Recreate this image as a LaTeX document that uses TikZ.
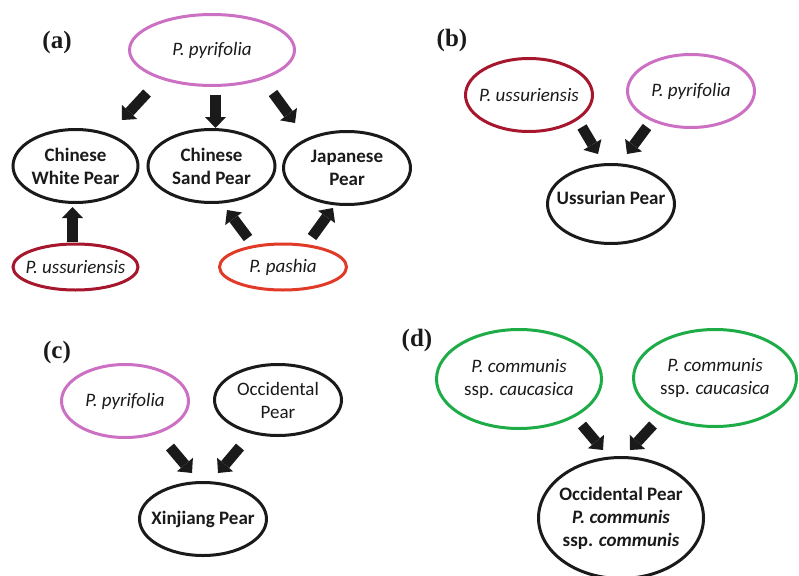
\documentclass[tikz,border=0pt]{standalone}
\usepackage{fontspec}
\setmainfont{Carlito}
\newfontfamily\labfont{Liberation Serif}
\usetikzlibrary{shapes.geometric,arrows.meta}
\definecolor{pyr}{RGB}{204,112,196}
\definecolor{uss}{RGB}{166,22,44}
\definecolor{pash}{RGB}{226,58,40}
\definecolor{grn}{RGB}{30,172,72}
\definecolor{ink}{RGB}{26,26,26}
\begin{document}
\begin{tikzpicture}[x=1pt,y=-1pt,
  ell/.style={ellipse,draw=ink,line width=3pt,inner xsep=-40pt,inner ysep=-30pt,text=ink,align=center,
    font=\fontsize{19}{23}\selectfont},
  bigarrow/.style={draw=ink,line width=10.5pt,
    -{Triangle[width=21pt,length=11pt,line width=0pt]}},
  panel/.style={font=\labfont\bfseries\fontsize{25}{28}\selectfont,text=ink,inner sep=0pt}]
\useasboundingbox (0,0) rectangle (799,575);
% ---------- (a)
\node[panel] (la) at (57,42) {(a)};
\node[ell,draw=pyr,minimum width=165pt,minimum height=71pt] (pyrA) at (212,50) {\textit{P. pyrifolia}};
\node[ell,minimum width=125pt,minimum height=73pt] (cwp) at (75.5,166) {\textbf{Chinese}\\\textbf{White Pear}};
\node[ell,minimum width=127pt,minimum height=73pt] (csp) at (211.5,166) {\textbf{Chinese}\\\textbf{Sand Pear}};
\node[ell,minimum width=127pt,minimum height=73pt] (jp) at (347,168) {\textbf{Japanese}\\\textbf{Pear}};
\node[ell,draw=uss,minimum width=125pt,minimum height=46pt] (ussA) at (75.5,267) {\textit{P. ussuriensis}};
\node[ell,draw=pash,minimum width=127pt,minimum height=46pt] (pashA) at (283,267) {\textit{P. pashia}};
\coordinate (a1t) at (147,93);  \coordinate (a1h) at (122,120);
\coordinate (a2t) at (215.5,95); \coordinate (a2h) at (215.5,128);
\coordinate (a3t) at (273,93);  \coordinate (a3h) at (295,123);
\coordinate (a4t) at (72.5,242); \coordinate (a4h) at (72.5,207);
\coordinate (a5t) at (248,238); \coordinate (a5h) at (227,210);
\coordinate (a6t) at (312,237); \coordinate (a6h) at (333,208);
\draw[bigarrow] (a1t) -- (a1h);
\draw[bigarrow] (a2t) -- (a2h);
\draw[bigarrow] (a3t) -- (a3h);
\draw[bigarrow] (a4t) -- (a4h);
\draw[bigarrow] (a5t) -- (a5h);
\draw[bigarrow] (a6t) -- (a6h);
% ---------- (b)
\node[panel] (lb) at (452,40) {(b)};
\node[ell,draw=uss,minimum width=127pt,minimum height=73pt] (ussB) at (529,95) {\textit{P. ussuriensis}};
\node[ell,draw=pyr,minimum width=127pt,minimum height=73pt] (pyrB) at (691,91) {\textit{P. pyrifolia}};
\node[ell,minimum width=127pt,minimum height=79pt,
  label={[text=ink,font=\fontsize{19}{23}\selectfont\bfseries,yshift=6pt]center:Ussurian Pear}] (usp) at (611,204) {};
\coordinate (b1t) at (582,127); \coordinate (b1h) at (598,154);
\coordinate (b2t) at (647,127); \coordinate (b2h) at (627,154);
\draw[bigarrow] (b1t) -- (b1h);
\draw[bigarrow] (b2t) -- (b2h);
% ---------- (c)
\node[panel] (lc) at (57,352) {(c)};
\node[ell,draw=pyr,minimum width=127pt,minimum height=73pt] (pyrC) at (125,401) {\textit{P. pyrifolia}};
\node[ell,minimum width=127pt,minimum height=71pt] (occC) at (278,400) {Occidental\\Pear};
\node[ell,minimum width=127pt,minimum height=73pt] (xin) at (203,519) {\textbf{Xinjiang Pear}};
\coordinate (c1t) at (170,447); \coordinate (c1h) at (192,473);
\coordinate (c2t) at (240,447); \coordinate (c2h) at (218,473);
\draw[bigarrow] (c1t) -- (c1h);
\draw[bigarrow] (c2t) -- (c2h);
% ---------- (d)
\node[panel] (ld) at (417,340) {(d)};
\node[ell,draw=grn,minimum width=165pt,minimum height=99pt] (comL) at (519,379) {\textit{P. communis}\\ssp. \textit{caucasica}};
\node[ell,draw=grn,minimum width=163pt,minimum height=97pt] (comR) at (715,378) {\textit{P. communis}\\ssp. \textit{caucasica}};
\node[ell,minimum width=165pt,minimum height=121pt] (occD) at (621,518) {\textbf{Occidental Pear}\\\textbf{\textit{P. communis}}\\\textbf{ssp. \textit{communis}}};
\coordinate (d1t) at (582,425); \coordinate (d1h) at (603,450);
\coordinate (d2t) at (653,425); \coordinate (d2h) at (630,450);
\draw[bigarrow] (d1t) -- (d1h);
\draw[bigarrow] (d2t) -- (d2h);
\end{tikzpicture}
\end{document}
